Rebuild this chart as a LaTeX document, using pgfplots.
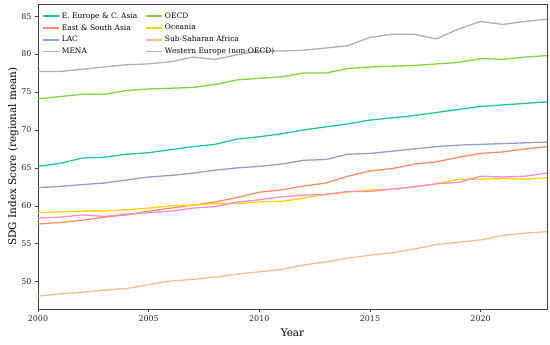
\documentclass[border=0pt]{standalone}
\usepackage{pgfplots}
\pgfplotsset{compat=1.18}
\usepackage{fontspec}
\setmainfont{DejaVu Serif}
\definecolor{ceeu}{HTML}{1DC49E}
\definecolor{cesa}{HTML}{FC8D62}
\definecolor{clac}{HTML}{8DA0CB}
\definecolor{cmena}{HTML}{FF8AC8}
\definecolor{coecd}{HTML}{7ED63C}
\definecolor{cocea}{HTML}{FFD500}
\definecolor{cssa}{HTML}{F5BE88}
\definecolor{cwe}{HTML}{AFAFAF}
\begin{document}
\begin{tikzpicture}
\path[use as bounding box] (-38bp,-36bp) rectangle (512bp,309bp);
\begin{axis}[
  at={(0,0)}, anchor=south west,
  scale only axis, width=509bp, height=305bp,
  xmin=2000, xmax=2023, ymin=46.4, ymax=86.6,
  xtick={2000,2005,2010,2015,2020},
  ytick={50,55,60,65,70,75,80,85},
  xticklabel style={/pgf/number format/1000 sep={}},
  /pgf/number format/assume math mode=true,
  tick label style={font=\fontsize{8}{9}\selectfont, color=black!85},
  tick align=outside, tick pos=left,
  major tick length=3bp,
  axis line style={black!75, line width=0.8pt},
  every tick/.style={black!75, line width=0.6pt},
  xlabel={Year}, ylabel={SDG Index Score (regional mean)},
  label style={font=\fontsize{10.5}{12}\selectfont},
  xlabel style={yshift=0bp},
  ylabel style={yshift=-4bp},
  legend columns=2,
  legend style={at={(0.002,0.985)}, anchor=north west, draw=none, fill=none,
    font=\fontsize{7.5}{8.5}\selectfont, row sep=0.6bp,
    /tikz/every even column/.append style={column sep=6bp}},
  legend cell align=left,
  legend image code/.code={\draw[mark repeat=2,mark phase=2,#1] plot coordinates {(0bp,0bp) (8bp,0bp) (16bp,0bp)};},
  legend image post style={line width=1.7pt},
  every axis plot/.append style={line width=1.3pt, line join=round},
]
\addplot[color=ceeu] coordinates {(2000,65.2)(2001,65.6)(2002,66.3)(2003,66.4)(2004,66.8)(2005,67.0)(2006,67.4)(2007,67.8)(2008,68.1)(2009,68.8)(2010,69.1)(2011,69.5)(2012,70.0)(2013,70.4)(2014,70.8)(2015,71.3)(2016,71.6)(2017,71.9)(2018,72.3)(2019,72.7)(2020,73.1)(2021,73.3)(2022,73.5)(2023,73.7)};
\addlegendentry{E. Europe \& C. Asia}
\addplot[color=coecd] coordinates {(2000,74.1)(2001,74.4)(2002,74.7)(2003,74.7)(2004,75.2)(2005,75.4)(2006,75.5)(2007,75.6)(2008,76.0)(2009,76.6)(2010,76.8)(2011,77.0)(2012,77.5)(2013,77.5)(2014,78.1)(2015,78.3)(2016,78.4)(2017,78.5)(2018,78.7)(2019,78.9)(2020,79.4)(2021,79.3)(2022,79.6)(2023,79.8)};
\addlegendentry{OECD}
\addplot[color=cesa] coordinates {(2000,57.6)(2001,57.8)(2002,58.1)(2003,58.5)(2004,58.8)(2005,59.3)(2006,59.7)(2007,60.1)(2008,60.5)(2009,61.1)(2010,61.8)(2011,62.1)(2012,62.6)(2013,63.0)(2014,63.9)(2015,64.6)(2016,64.9)(2017,65.5)(2018,65.8)(2019,66.4)(2020,66.9)(2021,67.1)(2022,67.5)(2023,67.8)};
\addlegendentry{East \& South Asia}
\addplot[color=cocea] coordinates {(2000,59.1)(2001,59.2)(2002,59.3)(2003,59.3)(2004,59.5)(2005,59.7)(2006,60.0)(2007,60.1)(2008,60.3)(2009,60.3)(2010,60.5)(2011,60.6)(2012,61.0)(2013,61.5)(2014,61.8)(2015,62.1)(2016,62.2)(2017,62.5)(2018,62.9)(2019,63.5)(2020,63.5)(2021,63.6)(2022,63.5)(2023,63.7)};
\addlegendentry{Oceania}
\addplot[color=clac] coordinates {(2000,62.4)(2001,62.55)(2002,62.8)(2003,63.0)(2004,63.4)(2005,63.8)(2006,64.0)(2007,64.3)(2008,64.7)(2009,65.0)(2010,65.2)(2011,65.5)(2012,66.0)(2013,66.1)(2014,66.8)(2015,66.9)(2016,67.2)(2017,67.5)(2018,67.8)(2019,68.0)(2020,68.1)(2021,68.2)(2022,68.3)(2023,68.4)};
\addlegendentry{LAC}
\addplot[color=cssa] coordinates {(2000,48.1)(2001,48.4)(2002,48.6)(2003,48.9)(2004,49.1)(2005,49.6)(2006,50.1)(2007,50.3)(2008,50.6)(2009,51.0)(2010,51.3)(2011,51.6)(2012,52.2)(2013,52.6)(2014,53.1)(2015,53.5)(2016,53.8)(2017,54.3)(2018,54.9)(2019,55.2)(2020,55.5)(2021,56.1)(2022,56.4)(2023,56.6)};
\addlegendentry{Sub-Saharan Africa}
\addplot[color=cmena] coordinates {(2000,58.4)(2001,58.5)(2002,58.8)(2003,58.6)(2004,58.9)(2005,59.1)(2006,59.3)(2007,59.7)(2008,59.9)(2009,60.5)(2010,60.8)(2011,61.2)(2012,61.4)(2013,61.5)(2014,61.9)(2015,61.9)(2016,62.2)(2017,62.5)(2018,62.9)(2019,63.1)(2020,63.9)(2021,63.8)(2022,63.9)(2023,64.3)};
\addlegendentry{MENA}
\addplot[color=cwe] coordinates {(2000,77.7)(2001,77.7)(2002,78.0)(2003,78.3)(2004,78.6)(2005,78.7)(2006,79.0)(2007,79.6)(2008,79.3)(2009,79.9)(2010,80.4)(2011,80.4)(2012,80.5)(2013,80.8)(2014,81.1)(2015,82.2)(2016,82.6)(2017,82.6)(2018,82.0)(2019,83.3)(2020,84.3)(2021,83.9)(2022,84.3)(2023,84.6)};
\addlegendentry{Western Europe (non-OECD)}
\end{axis}
\end{tikzpicture}
\end{document}
